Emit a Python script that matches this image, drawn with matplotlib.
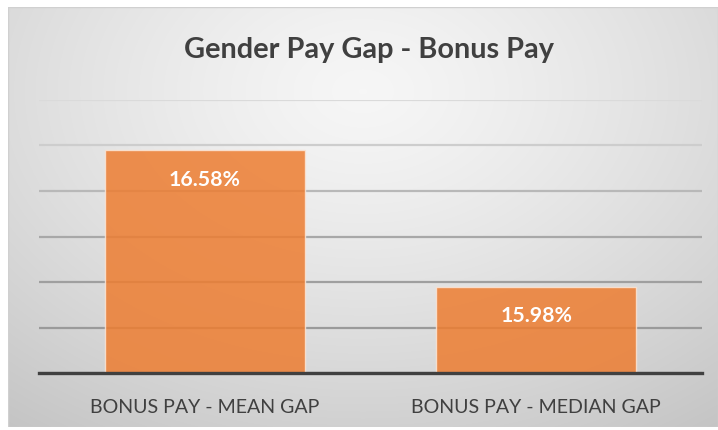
import numpy as np
import matplotlib
matplotlib.use("Agg")
import matplotlib.pyplot as plt

categories = ["BONUS PAY - MEAN GAP", "BONUS PAY - MEDIAN GAP"]
values = [16.58, 15.98]
labels = ["16.58%", "15.98%"]
title = "Gender Pay Gap - Bonus Pay"
y_min, y_max, y_step = 15.6, 16.8, 0.2

W, H = 718, 431
fig = plt.figure(figsize=(W / 100, H / 100), dpi=100)
fig.patch.set_facecolor("white")

# background radial gradient panel
bg = fig.add_axes([8 / W, 3 / H, (W - 8) / W, (H - 11) / H], zorder=-5)
yy, xx = np.mgrid[0:1:300j, 0:1:500j]
r = np.sqrt(((xx - 0.5) / 0.75) ** 2 + ((yy - 0.2) / 0.9) ** 2)
g = np.clip(0.965 - 0.17 * r ** 1.3, 0.74, 1)
bg.imshow(np.dstack([g, g, g]), aspect="auto", extent=[0, 1, 1, 0], interpolation="bilinear")
bg.set_axis_off()
bg.add_patch(plt.Rectangle((0, 0), 1, 1, fill=False, edgecolor="#d0d0d0", lw=1, transform=bg.transAxes))

ax = fig.add_axes([39 / W, (H - 374.3) / H, (702 - 39) / W, (374.3 - 100.7) / H])
ax.set_facecolor("none")
x = np.arange(len(categories))
bars = ax.bar(x, values, width=0.603, bottom=0, color="#ED7D31", alpha=0.85,
              edgecolor="#fbe5d6", linewidth=1.0, zorder=3)
ax.set_ylim(y_min, y_max)
ax.set_xlim(-0.5, len(categories) - 0.5)
ax.set_yticks(np.arange(y_min, y_max + 1e-9, y_step))
ax.yaxis.grid(True, color="#a6a6a6", linewidth=1.6, zorder=1)
ax.set_axisbelow(True)
gl = ax.yaxis.get_gridlines()
grid_colors = ["#a0a0a0", "#9a9a9a", "#9f9f9f", "#a8a8a8", "#b8b8b8", "#cdcdcd", "#dadada"]
for line, c in zip(gl, grid_colors):
    line.set_color(c)
ax.tick_params(axis="y", left=False, labelleft=False)
ax.tick_params(axis="x", bottom=False, labelbottom=False)
ax.set_xticks(x)
for s in ["top", "right", "left"]:
    ax.spines[s].set_visible(False)
ax.spines["bottom"].set_color("#404040")
ax.spines["bottom"].set_linewidth(2.4)
ax.spines["bottom"].set_zorder(4)

for xi, cat in zip(x, categories):
    ax.annotate(cat, (xi, 0), xycoords=ax.get_xaxis_transform(),
                xytext=(0, -28.1), textcoords="offset points", ha="center", va="baseline",
                color="#404040", fontsize=14.1, family="Lato", annotation_clip=False)

for b, lab in zip(bars, labels):
    ax.annotate(lab, (b.get_x() + b.get_width() / 2, b.get_height()),
                xytext=(0, -25.0), textcoords="offset points", ha="center", va="baseline",
                color="white", fontsize=15.3, fontweight="bold", family="Lato", zorder=5)

fig.text(369.5 / W, (H - 58.3) / H, title, ha="center", va="baseline", fontsize=20.8,
         fontweight="bold", color="#404040", family="Lato")

fig.savefig("out.png", dpi=100)
